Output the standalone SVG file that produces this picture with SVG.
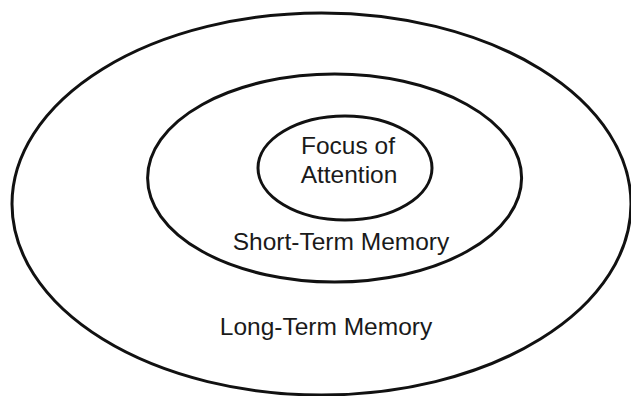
<svg xmlns="http://www.w3.org/2000/svg" width="631" height="396" viewBox="0 0 631 396">
<style>
.ring{fill:none;stroke:#111;stroke-width:3}
.lbl{font-family:"Liberation Sans",Arial,sans-serif;font-size:24.5px;fill:#1a1a1a;text-anchor:middle}
</style>
<rect width="631" height="396" fill="#fff"/>
<g id="long-term">
<ellipse class="ring" cx="321.5" cy="204" rx="309.5" ry="191"/>
<text class="lbl" x="326" y="335">Long-Term Memory</text>
</g>
<g id="short-term">
<ellipse class="ring" cx="334.6" cy="178" rx="187" ry="104"/>
<text class="lbl" x="341" y="250">Short-Term Memory</text>
</g>
<g id="focus">
<ellipse class="ring" cx="345" cy="168" rx="87" ry="52"/>
<text class="lbl" x="348" y="154">Focus of</text>
<text class="lbl" x="349" y="183">Attention</text>
</g>
<g id="connectors"/>
</svg>
